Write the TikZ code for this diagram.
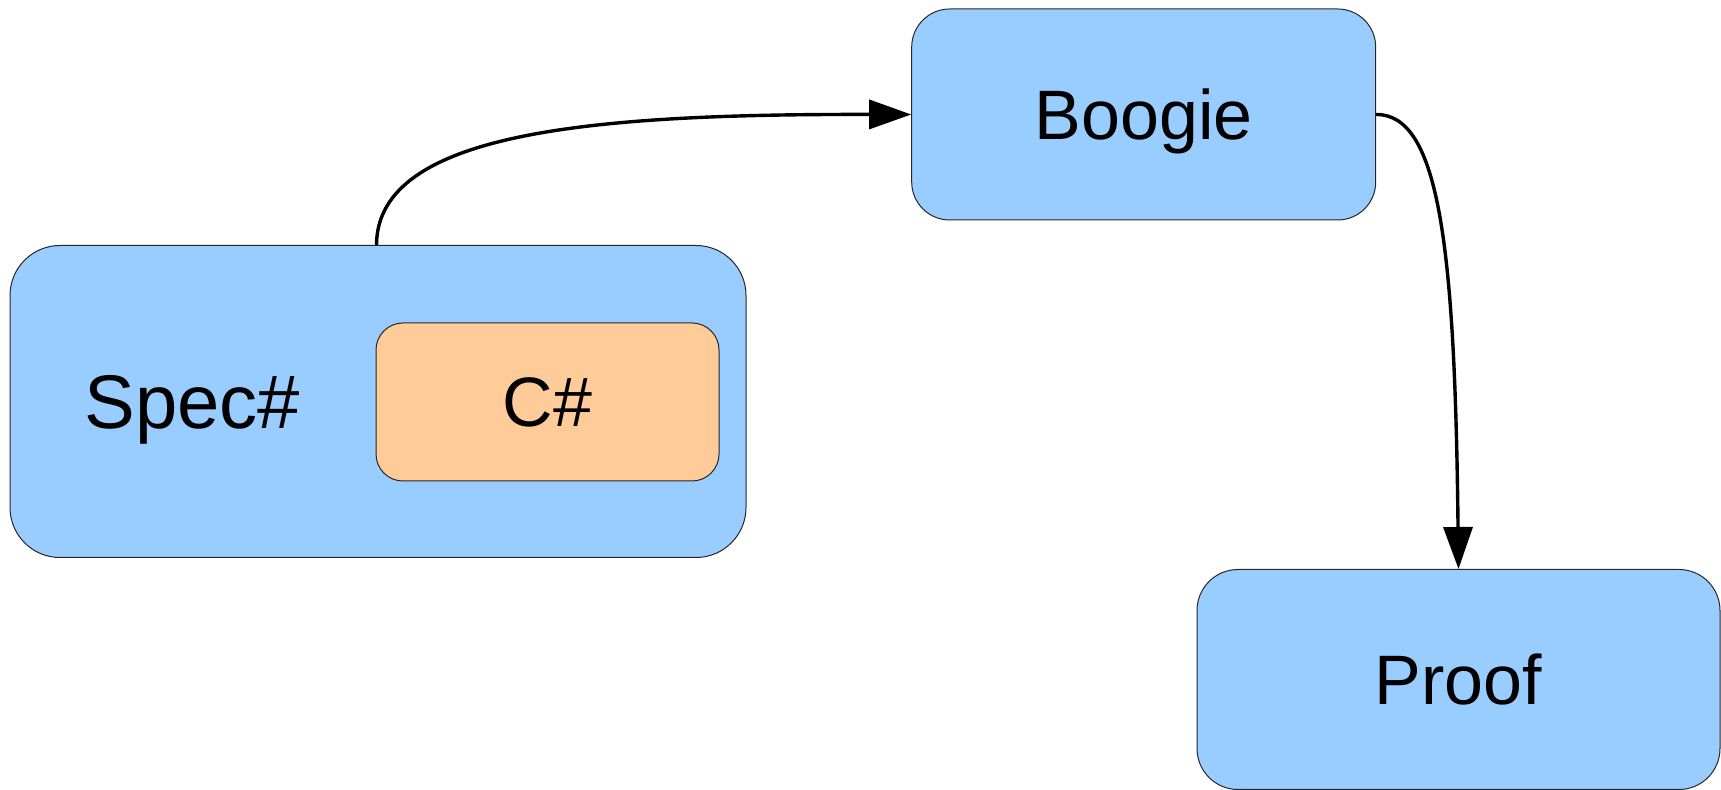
\documentclass[tikz,border=0pt]{standalone}
\usepackage{fontspec}
\setmainfont{Liberation Sans}
\usetikzlibrary{arrows.meta,calc}
\definecolor{boxblue}{HTML}{99CCFF}
\definecolor{boxorange}{HTML}{FFCC99}
\tikzset{
  box/.style={draw=black!85, line width=0.5pt, fill=boxblue, inner sep=0pt,
    text depth=0pt, font=\fontsize{35}{41}\selectfont},
  conn/.style={draw=black, line width=1.7pt, -{Triangle[length=21pt,width=14.5pt]}},
  lbl/.style={inner sep=0pt, text depth=0pt, font=\fontsize{38}{44}\selectfont}
}
\begin{document}
\begin{tikzpicture}[x=0.5pt,y=-0.5pt]
\useasboundingbox (0,0) rectangle (1721,790);
\node[box, rounded corners=25pt, minimum width=368pt, minimum height=156pt] (spec) at (378,401.5) {};
\node[lbl] (spectext) at (192.5,402) {Spec\#};
\node[box, fill=boxorange, rounded corners=13.5pt, minimum width=171.5pt, minimum height=79pt] (cs) at (547.5,402) {C\#};
\node[box, rounded corners=19pt, minimum width=232pt, minimum height=105.5pt] (boogie) at (1143.7,114.5) {Boogie};
\node[box, rounded corners=20.5pt, minimum width=261.5pt, minimum height=110pt] (proof) at (1458.5,679.5) {Proof};
\coordinate (specout) at ($(spec.north west)+(367,0)$);
\draw[conn] (specout) .. controls (377,130) and (600,114) .. (boogie.west);
\draw[conn] (boogie.east) .. controls (1440,114) and (1455,250) .. (proof.north);
\end{tikzpicture}
\end{document}
